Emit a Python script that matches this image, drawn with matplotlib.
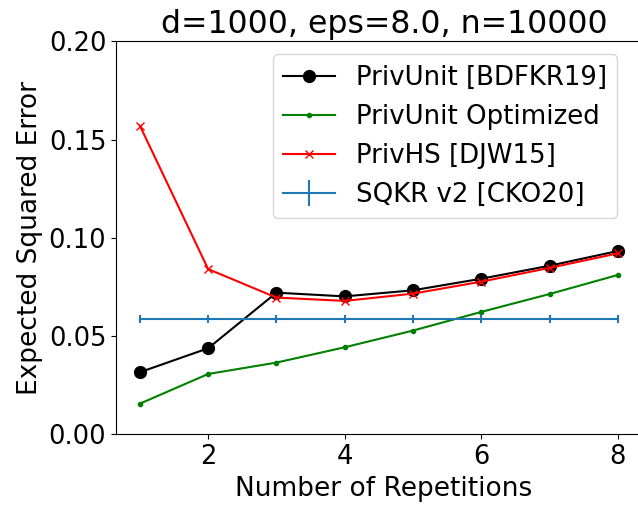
import numpy as np
import matplotlib
matplotlib.use("Agg")
import matplotlib.pyplot as plt

reps = [1, 2, 3, 4, 5, 6, 7, 8]
privunit = [0.0316, 0.0438, 0.0721, 0.0702, 0.0733, 0.0792, 0.0858, 0.0933]
privunit_opt = [0.0156, 0.0307, 0.0365, 0.0443, 0.0528, 0.0623, 0.0714, 0.0811]
privhs = [0.1571, 0.0841, 0.0696, 0.0679, 0.0716, 0.0777, 0.0847, 0.0921]
sqkr = [0.0585] * 8
sqkr_err = [0.002] * 8

plt.rcParams['font.size'] = 19

fig = plt.figure(figsize=(6.38, 5.05), dpi=100)
# axes run slightly past the right edge of the figure, as in the original
ax = fig.add_axes([0.1818, 0.140, 0.840, 0.778])

ax.plot(reps, privunit, 'o-', color='black', markersize=8.5, label='PrivUnit [BDFKR19]')
ax.plot(reps, privunit_opt, '.-', color='green', label='PrivUnit Optimized')
ax.plot(reps, privhs, 'x-', color='red', label='PrivHS [DJW15]')
ax.errorbar(reps, sqkr, yerr=sqkr_err, label='SQKR v2 [CKO20]')

ax.set_xlim(0.65, 8.5)
ax.set_ylim(0, 0.2)
ax.set_yticks([0.0, 0.05, 0.10, 0.15, 0.20])
ax.tick_params(labelsize=18.5)
ax.set_xlabel('Number of Repetitions')
ax.set_ylabel('Expected Squared Error')
ax.set_title('d=1000, eps=8.0, n=10000', fontsize=22.7)
ax.legend(loc='upper right', bbox_to_anchor=(0.96, 1.0), fontsize=18.7)

fig.savefig('out.png', dpi=100)
